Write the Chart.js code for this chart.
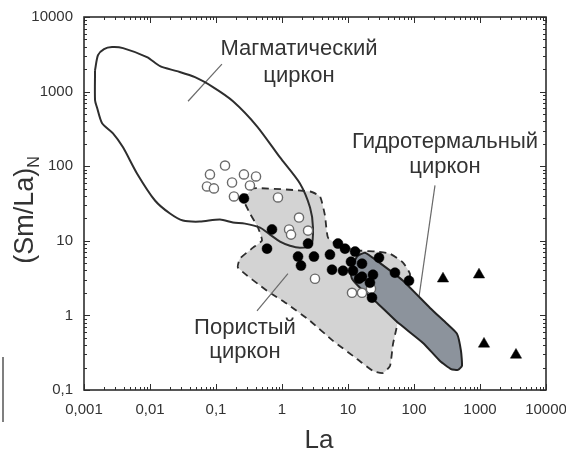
<!DOCTYPE html>
<html>
<head>
<meta charset="utf-8">
<script src="https://cdn.jsdelivr.net/npm/chart.js@4/dist/chart.umd.min.js"></script>
<style>
  html, body { margin: 0; padding: 0; background: #fff; }
  canvas { display: block; }
</style>
</head>
<body>
<canvas id="chart" width="566" height="452"></canvas>
<script>
// Tick labels (decimal comma)
const xTickLabels = ['0,001', '0,01', '0,1', '1', '10', '100', '1000', '10000'];
const yTickLabels = ['0,1', '1', '10', '100', '1000', '10000'];

// Field of magmatic zircon (outline)
const magmaticLa = [0.00147, 0.00163, 0.00201, 0.00266, 0.0039, 0.009, 0.0142, 0.0256, 0.048, 0.09,
  0.181, 0.418, 0.933, 1.87, 2.66, 2.95, 2.75, 1.87, 1.32, 0.933, 0.658, 0.465, 0.275, 0.181, 0.115,
  0.057, 0.0316, 0.0201, 0.0119, 0.00635, 0.0039, 0.00275, 0.00188, 0.00157, 0.00147];
const magmaticSmLa = [1940, 3080, 3715, 3950, 3830, 2900, 2190, 1880, 1560, 1150,
  743, 343, 131, 58.7, 27.9, 15.0, 8.6, 8.1, 8.6, 9.75, 12.1, 15.0, 17.0, 17.6, 19.3,
  18.1, 18.7, 23.2, 34.7, 80, 179, 276, 376, 617, 766];

// Field of porous zircon (dashed outline)
const porousLa = [0.256, 0.364, 2.66, 3.77, 4.48, 4.98, 7.57, 15.2, 25.6, 43.3, 68.1, 86.9, 81.1, 61.4,
  55.2, 48.1, 43.3, 33.9, 23.9, 13.7, 5.93, 2.66, 1.19, 0.593, 0.215, 0.231, 0.364, 0.498, 0.433, 0.327];
const porousSmLa = [35.8, 50.4, 45.8, 39.3, 21.8, 11.0, 8.6, 7.4, 7.2, 6.7, 5.1, 3.6, 2.5, 1.35,
  0.72, 0.415, 0.21, 0.169, 0.18, 0.261, 0.456, 0.845, 1.43, 2.14, 4.37, 5.77, 8.1, 10.1, 15.0, 23.2];

// Field of hydrothermal zircon
const hydroLa = [10.7, 13.7, 18.1, 28.5, 68.1, 175, 316, 449, 515, 533, 464, 364, 248, 137, 55.2, 27.5, 15.2, 11.5];
const hydroSmLa = [3.97, 6.14, 6.93, 5.25, 2.92, 1.26, 0.771, 0.566, 0.334, 0.21, 0.186, 0.191, 0.245, 0.428, 0.82, 1.48, 2.35, 3.1];

// Samples: open circles
const openLa = [0.137, 0.081, 0.265, 0.404, 0.175, 0.073, 0.093, 0.327, 0.187, 0.869, 1.81, 1.28, 1.37, 2.48, 3.16, 11.5, 16.3, 22.3];
const openSmLa = [102, 77.6, 77.6, 72.9, 60.5, 53.5, 50.4, 55.2, 39.3, 38.1, 20.5, 14.2, 12.1, 13.7, 3.1, 2.01, 2.01, 2.28];

// Samples: filled circles
const filledLa = [0.265, 0.705, 0.593, 2.48, 1.75, 1.94, 3.05, 5.33, 7.05, 9.0, 12.8, 5.73, 8.4, 11.1, 11.9,
  16.3, 16.3, 23.9, 21.5, 23.1, 29.5, 51.5, 84, 14.7];
const filledSmLa = [36.9, 14.2, 7.85, 9.17, 6.14, 4.65, 6.14, 6.53, 9.17, 7.85, 7.16, 4.10, 3.97, 5.25, 3.97,
  4.94, 3.30, 3.51, 2.74, 1.73, 5.94, 3.74, 2.92, 3.1];

// Samples: triangles
const triLa = [275, 966, 1150, 3510];
const triSmLa = [3.1, 3.51, 0.415, 0.295];

// Field captions and their leader lines (data coordinates)
const captionLines = [
  ['Магматический', 'циркон'],
  ['Гидротермальный', 'циркон'],
  ['Пористый', 'циркон']
];
const captionLa = [1.81, 295, 0.275];
const captionSmLa = [[3080, 1330], [173, 80], [0.566, 0.269]];
const leaderLa = [[0.0377, 0.123], [208, 111], [0.418, 1.23]];
const leaderSmLa = [[743, 2335], [55.2, 1.15], [1.15, 3.62]];

const pts = (xs, ys) => xs.map((v, i) => ({ x: v, y: ys[i] }));
const closed = (xs, ys) => { const p = pts(xs, ys); p.push({ ...p[0] }); return p; };

const FONT = '"Liberation Sans", Arial, sans-serif';
const INK = '#2e2e2e';

function decadeLabel(value, base, labels) {
  const l = Math.log10(value);
  const e = Math.round(l);
  if (Math.abs(l - e) > 1e-6) return '';
  return labels[e - base] ?? '';
}

const leaderSets = leaderLa.map((xs, i) => ({
  type: 'scatter',
  data: pts(xs, leaderSmLa[i]),
  showLine: true,
  borderColor: '#6a6a6a',
  borderWidth: 1.2,
  pointRadius: 0,
  fill: false,
  order: 6
}));

const framePlugin = {
  id: 'frameAndText',
  afterDraw(chart) {
    const { ctx, chartArea: a, scales: { x, y } } = chart;
    ctx.save();
    // inner tick marks on all four sides
    ctx.strokeStyle = INK;
    ctx.lineWidth = 1;
    ctx.beginPath();
    for (let e = -3; e <= 4; e++) {
      for (let m = 1; m <= 9; m++) {
        const v = m * Math.pow(10, e);
        if (v > 10000 * 1.0001) break;
        const px = Math.round(x.getPixelForValue(v)) + 0.5;
        const len = m === 1 ? 6 : 3;
        ctx.moveTo(px, a.bottom); ctx.lineTo(px, a.bottom - len);
        ctx.moveTo(px, a.top); ctx.lineTo(px, a.top + len);
      }
    }
    for (let e = -1; e <= 4; e++) {
      for (let m = 1; m <= 9; m++) {
        const v = m * Math.pow(10, e);
        if (v > 10000 * 1.0001) break;
        const py = Math.round(y.getPixelForValue(v)) + 0.5;
        const len = m === 1 ? 6 : 3;
        ctx.moveTo(a.left, py); ctx.lineTo(a.left + len, py);
        ctx.moveTo(a.right, py); ctx.lineTo(a.right - len, py);
      }
    }
    ctx.stroke();
    // frame
    ctx.lineWidth = 1.6;
    ctx.strokeRect(a.left, a.top, a.right - a.left, a.bottom - a.top);

    // field captions
    ctx.fillStyle = '#333';
    ctx.font = '22px ' + FONT;
    ctx.textAlign = 'center';
    ctx.textBaseline = 'alphabetic';
    captionLines.forEach((lines, i) => {
      const cx = x.getPixelForValue(captionLa[i]);
      lines.forEach((t, j) => ctx.fillText(t, cx, y.getPixelForValue(captionSmLa[i][j])));
    });

    // axis titles
    ctx.font = '26px ' + FONT;
    ctx.fillText('La', (a.left + a.right) / 2 + 4, 448);

    ctx.save();
    ctx.translate(26, 210);
    ctx.rotate(-Math.PI / 2);
    ctx.font = '27px ' + FONT;
    const main = '(Sm/La)';
    const wMain = ctx.measureText(main).width;
    ctx.font = '16px ' + FONT;
    const wSub = ctx.measureText('N').width;
    const start = -(wMain + wSub) / 2;
    ctx.textAlign = 'left';
    ctx.textBaseline = 'middle';
    ctx.font = '27px ' + FONT;
    ctx.fillText(main, start, 0);
    ctx.font = '16px ' + FONT;
    ctx.fillText('N', start + wMain, 9);
    ctx.restore();

    // edge rule at the lower left
    ctx.strokeStyle = '#555';
    ctx.lineWidth = 1.5;
    ctx.beginPath();
    ctx.moveTo(3, 357); ctx.lineTo(3, 422);
    ctx.stroke();
    ctx.restore();
  }
};

new Chart(document.getElementById('chart'), {
  type: 'scatter',
  data: {
    datasets: [
      {
        label: 'Пористый циркон',
        data: closed(porousLa, porousSmLa),
        showLine: true,
        fill: 'shape',
        backgroundColor: '#d3d3d3',
        borderColor: INK,
        borderWidth: 1.8,
        borderDash: [7, 5],
        tension: 0.15,
        pointRadius: 0,
        order: 7
      },
      {
        label: 'Магматический циркон',
        data: closed(magmaticLa, magmaticSmLa),
        showLine: true,
        fill: false,
        borderColor: INK,
        borderWidth: 2,
        tension: 0.25,
        pointRadius: 0,
        order: 5
      },
      {
        label: 'Гидротермальный циркон',
        data: closed(hydroLa, hydroSmLa),
        showLine: true,
        fill: 'shape',
        backgroundColor: '#8c939c',
        borderColor: '#232323',
        borderWidth: 2,
        tension: 0.15,
        pointRadius: 0,
        order: 4
      },
      ...leaderSets,
      {
        label: 'open',
        data: pts(openLa, openSmLa),
        pointStyle: 'circle',
        pointRadius: 4.6,
        backgroundColor: '#ffffff',
        borderColor: '#6a6a6a',
        borderWidth: 1.4,
        order: 3
      },
      {
        label: 'filled',
        data: pts(filledLa, filledSmLa),
        pointStyle: 'circle',
        pointRadius: 5,
        backgroundColor: '#000000',
        borderColor: '#000000',
        borderWidth: 0.5,
        order: 2
      },
      {
        label: 'triangles',
        data: pts(triLa, triSmLa),
        pointStyle: 'triangle',
        pointRadius: 6.5,
        backgroundColor: '#000000',
        borderColor: '#000000',
        borderWidth: 0.5,
        order: 1
      }
    ]
  },
  options: {
    responsive: false,
    animation: false,
    devicePixelRatio: 1,
    layout: { padding: { left: 0, top: 17, right: 20, bottom: 0 } },
    plugins: { legend: { display: false }, tooltip: { enabled: false } },
    scales: {
      x: {
        type: 'logarithmic',
        position: 'bottom',
        min: 0.001,
        max: 10000,
        grid: { display: false, drawTicks: true, tickLength: 8 },
        border: { display: false },
        ticks: {
          autoSkip: false,
          maxRotation: 0,
          padding: 3,
          color: '#333',
          font: { family: FONT, size: 15 },
          callback: (v) => decadeLabel(v, -3, xTickLabels)
        },
        afterFit: (s) => { s.height = 62; s.paddingLeft = 0; s.paddingRight = 0; }
      },
      y: {
        type: 'logarithmic',
        position: 'left',
        min: 0.1,
        max: 10000,
        grid: { display: false, drawTicks: true, tickLength: 8 },
        border: { display: false },
        ticks: {
          autoSkip: false,
          padding: 3,
          color: '#333',
          font: { family: FONT, size: 15 },
          callback: (v) => decadeLabel(v, -1, yTickLabels)
        },
        afterFit: (s) => { s.width = 84; s.paddingTop = 0; s.paddingBottom = 0; }
      }
    }
  },
  plugins: [framePlugin]
});
</script>
</body>
</html>
